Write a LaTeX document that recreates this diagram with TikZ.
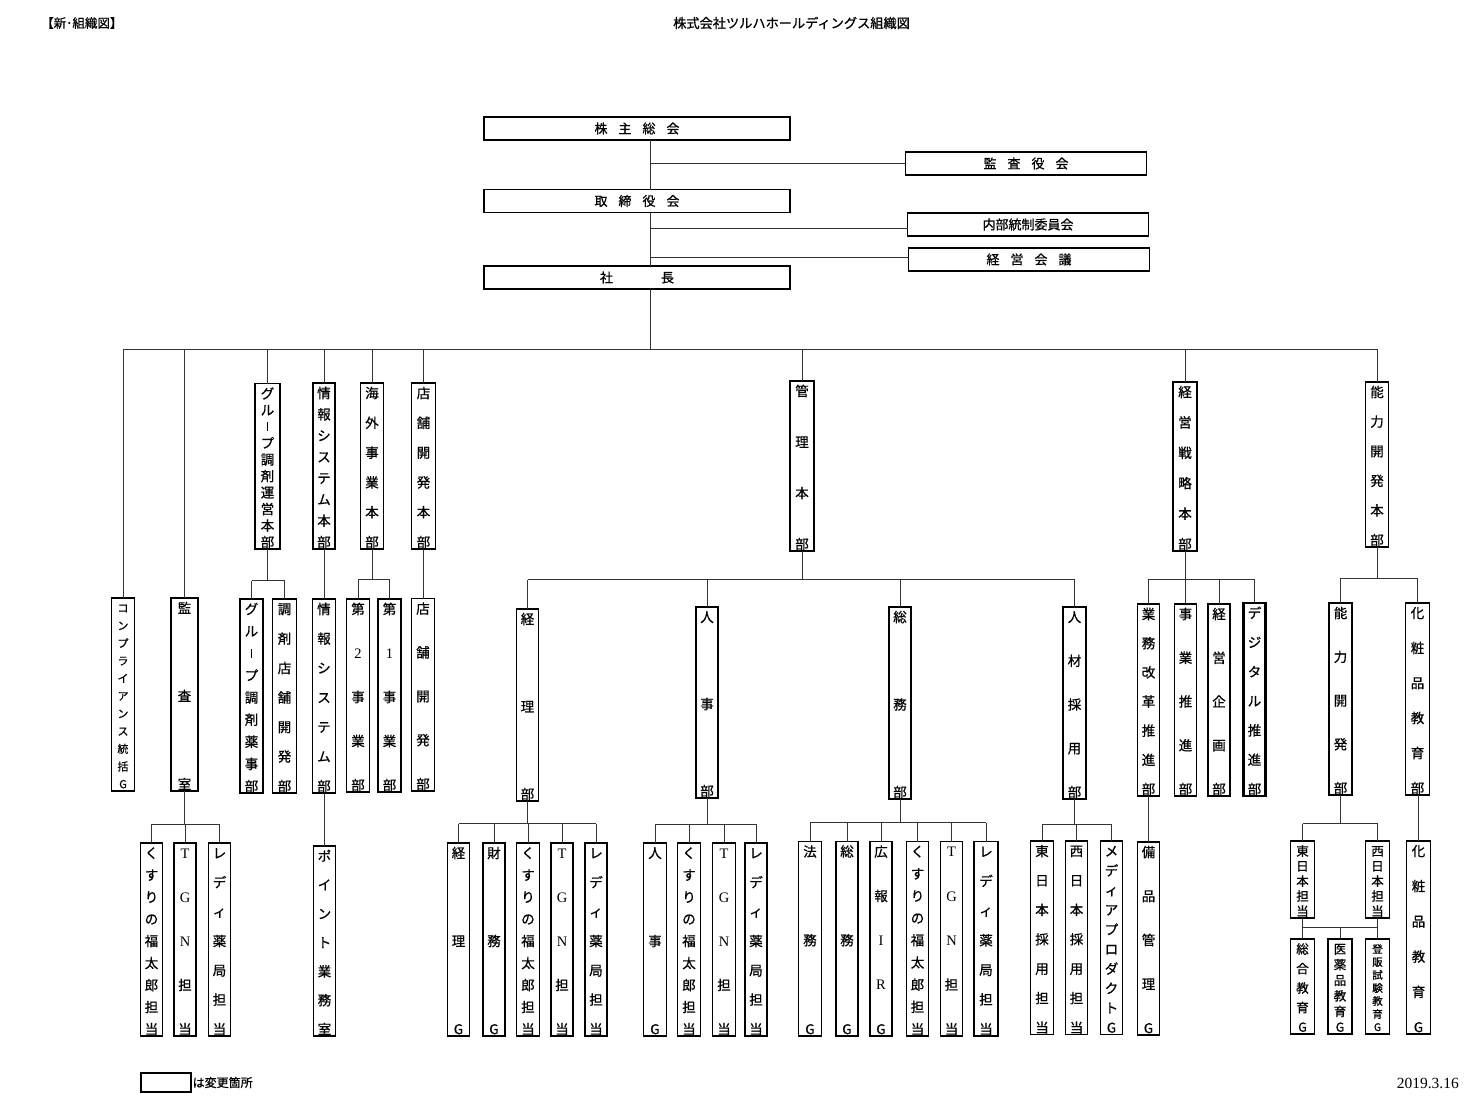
\documentclass[tikz,border=0pt]{standalone}
\usepackage{fontspec}
\setmainfont{Liberation Serif}
\newfontfamily\jp[FakeBold=0.7]{Noto Sans CJK JP}
\newcommand\lat[1]{{\rmfamily\fontsize{14.5}{14.5}\selectfont #1}}
\newcommand\vbarc{\rule[0.05em]{0.09em}{0.68em}}
\newcommand\hs{\hspace{11pt}}
\def\vfs{13.5}
\tikzset{
 ln/.style={line width=1pt, draw=black!80},
 bx/.style={draw=black, line width=1.1pt, fill=white, inner sep=0pt, outer sep=0pt},
 hb/.style={bx, minimum width=306pt, minimum height=23pt, font=\jp\fontsize{13}{13}\selectfont},
 sb/.style={bx, minimum width=241pt, minimum height=23pt, font=\jp\fontsize{13}{13}\selectfont},
 vch/.style={inner sep=0pt, font=\jp\fontsize{\vfs}{\vfs}\selectfont},
 chg/.style={line width=2.8pt},
 hdr/.style={inner sep=0pt, font=\jp\fontsize{12.5}{12.5}\selectfont},
}
% vertical box: [opts]{name}{x}{width}{top}{bottom}{chars}
\newcommand\vcol[7][]{%
 \node[bx,#1,minimum width=#4pt,minimum height={(#6-#5)*1pt}] (#2) at (#3,{(#5+#6)/2}) {};
 \foreach \c [count=\i] in {#7} {\xdef\vn{\i}}%
 \foreach \c [count=\i] in {#7} {%
   \pgfmathsetmacro\yy{#5+10+(\i-1)*(#6-#5-17)/(\vn-1)+0.38*\vfs}%
   \node[vch,anchor=base] at (#3,\yy) {\c};}%
}
% bracket: {parent}{Y}{children}
\newcommand\brk[3]{%
 \draw[ln] (#1.south) -- (#1.south |- 0,#2);
 \foreach \c [count=\i] in {#3} {\ifnum\i=1 \xdef\brkfirst{\c}\fi \xdef\brklast{\c}%
   \draw[ln] (\c.north) -- (\c.north |- 0,#2);}%
 \draw[ln] (\brkfirst.north |- 0,#2) -- (\brklast.north |- 0,#2);
}
\newcommand\direct[2]{\draw[ln] (#2.north) -- (#2.north |- #1.south);}
\begin{document}
\begin{tikzpicture}[x=1pt,y=-1pt]
\useasboundingbox (0,0) rectangle (1479,1119);
\fill[white] (0,0) rectangle (1479,1119);

% headers
\node[hdr,anchor=west] (hdrL) at (41,23) {【新･組織図】};
\node[hdr,anchor=west,font=\jp\fontsize{13.2}{13.2}\selectfont] (title) at (673,23) {株式会社ツルハホールディングス組織図};

\coordinate (sp) at (650,0);
\coordinate (bus) at (0,349);

\node[hb] (kabu) at (637,128.5) {株\hs 主\hs 総\hs 会};
\node[hb] (tori) at (637,201) {取\hs 締\hs 役\hs 会};
\node[hb] (shacho) at (637,277.5) {社\hspace{48pt}長};
\node[sb] (kansa) at (1026,163.5) {監\hs 査\hs 役\hs 会};
\node[sb] (naibu) at (1028,224.5) {内部統制委員会};
\node[sb] (keiei) at (1029,259.5) {経\hs 営\hs 会\hs 議};

\draw[ln] (kabu.south -| sp) -- (tori.north -| sp);
\draw[ln] (sp |- kansa.west) -- (kansa.west);
\draw[ln] (tori.south -| sp) -- (shacho.north -| sp);
\draw[ln] (sp |- 0,228) -- (naibu.west |- 0,228);
\draw[ln] (sp |- 0,257) -- (keiei.west |- 0,257);
\draw[ln] (shacho.south -| sp) -- (sp |- bus);

% level 1
\begin{scope}\def\vfs{11}
\vcol{comp}{123}{23}{598}{791}{コ,ン,プ,ラ,イ,ア,ン,ス,統,括,G}
\end{scope}
\vcol{kansashitsu}{184.5}{27}{598}{791}{監,査,室}
\vcol{grpH}{267.5}{25}{383.5}{549}{グ,ル,\vbarc,プ,調,剤,運,営,本,部}
\vcol{johoH}{324}{22}{383}{549}{情,報,シ,ス,テ,ム,本,部}
\vcol{kaigaiH}{372}{23.5}{383}{549}{海,外,事,業,本,部}
\vcol{tenpoH}{423.5}{23.5}{383}{549}{店,舗,開,発,本,部}
\vcol{kanriH}{802}{24}{381}{551}{管,理,本,部}
\vcol{senryakuH}{1185}{24}{382}{551}{経,営,戦,略,本,部}
\vcol{noryokuH}{1377}{23.5}{382}{547}{能,力,開,発,本,部}

\draw[ln] (comp.north |- bus) -- (noryokuH.north |- bus);
\foreach \n in {comp,kansashitsu,grpH,johoH,kaigaiH,tenpoH,kanriH,senryakuH,noryokuH}
  \draw[ln] (\n.north) -- (\n.north |- bus);

% level 2
\vcol{grpJ}{251.5}{23}{599}{793}{グ,ル,\vbarc,プ,調,剤,薬,事,部}
\vcol{chozai}{284.5}{24}{599}{793}{調,剤,店,舗,開,発,部}
\vcol{joho}{324}{23}{599}{793}{情,報,シ,ス,テ,ム,部}
\vcol{dai2}{358}{22.5}{599}{792}{第,\lat{2},事,業,部}
\vcol{dai1}{389.5}{23}{599}{792}{第,\lat{1},事,業,部}
\vcol{tenpo}{423}{23}{598.5}{791}{店,舗,開,発,部}
\vcol{keiri}{527.5}{22}{609}{801}{経,理,部}
\vcol{jinji}{707}{22}{607}{798}{人,事,部}
\vcol{somu}{900}{22}{607}{799}{総,務,部}
\vcol{jinzai}{1074.5}{23}{607}{799}{人,材,採,用,部}
\vcol{gyomu}{1148.5}{22.5}{604}{796}{業,務,改,革,推,進,部}
\vcol{jigyo}{1185.5}{22.5}{604}{796}{事,業,推,進,部}
\vcol{kikaku}{1219}{22}{604}{796}{経,営,企,画,部}
\vcol[chg]{digital}{1254.5}{22.5}{603}{796}{デ,ジ,タ,ル,推,進,部}
\vcol{noryoku}{1340.5}{23}{603}{795}{能,力,開,発,部}
\vcol{kesho}{1417.5}{23.5}{603}{795}{化,粧,品,教,育,部}

\brk{grpH}{580.5}{grpJ,chozai}
\direct{johoH}{joho}
\brk{kaigaiH}{579.5}{dai2,dai1}
\direct{tenpoH}{tenpo}
\brk{kanriH}{579.5}{keiri,jinji,somu,jinzai}
\brk{senryakuH}{579}{gyomu,jigyo,kikaku,digital}
\brk{noryokuH}{578}{noryoku,kesho}

% level 3
\vcol{kKusuri}{151.5}{22.5}{843}{1036}{く,す,り,の,福,太,郎,担,当}
\vcol{kTgn}{185}{22}{843}{1036}{\lat{T},\lat{G},\lat{N},担,当}
\vcol{kLady}{219.5}{22}{843}{1036}{レ,デ,ィ,薬,局,担,当}
\vcol{point}{324.5}{22.5}{846}{1036}{ポ,イ,ン,ト,業,務,室}

\vcol{krG}{458.5}{22.5}{843}{1036}{経,理,G}
\vcol{zaimu}{494}{22}{843}{1036}{財,務,G}
\vcol{krKusuri}{528}{22.5}{843}{1036}{く,す,り,の,福,太,郎,担,当}
\vcol{krTgn}{562}{22}{843}{1036}{\lat{T},\lat{G},\lat{N},担,当}
\vcol{krLady}{596}{22}{843}{1036}{レ,デ,ィ,薬,局,担,当}

\vcol{jjG}{655}{22.5}{843}{1036}{人,事,G}
\vcol{jjKusuri}{689}{22.5}{843}{1036}{く,す,り,の,福,太,郎,担,当}
\vcol{jjTgn}{724}{23}{843}{1036}{\lat{T},\lat{G},\lat{N},担,当}
\vcol{jjLady}{756}{22}{843}{1036}{レ,デ,ィ,薬,局,担,当}

\vcol{homu}{810}{23}{841.5}{1036}{法,務,G}
\vcol{somuG}{847}{22}{841.5}{1036}{総,務,G}
\vcol{koho}{881}{22}{841.5}{1036}{広,報,\lat{I},\lat{R},G}
\vcol{smKusuri}{917.5}{22}{841.5}{1036}{く,す,り,の,福,太,郎,担,当}
\vcol{smTgn}{951.5}{22.5}{841.5}{1036}{\lat{T},\lat{G},\lat{N},担,当}
\vcol{smLady}{986}{24}{841.5}{1036}{レ,デ,ィ,薬,局,担,当}

\vcol{higashiS}{1042}{22.5}{841}{1034.5}{東,日,本,採,用,担,当}
\vcol{nishiS}{1076.5}{22.5}{841}{1034.5}{西,日,本,採,用,担,当}
\vcol{media}{1111.5}{22}{841}{1034.5}{メ,デ,ィ,ア,プ,ロ,ダ,ク,ト,G}
\vcol{bihin}{1148.5}{22.5}{842}{1035}{備,品,管,理,G}

\begin{scope}\def\vfs{12.5}
\vcol{higashiT}{1302.5}{24}{841}{918}{東,日,本,担,当}
\vcol{nishiT}{1377.5}{24}{841}{918}{西,日,本,担,当}
\vcol{sogo}{1302.5}{24}{939}{1034}{総,合,教,育,G}
\vcol{iyaku}{1340}{24}{939}{1034}{医,薬,品,教,育,G}
\end{scope}
\begin{scope}\def\vfs{10.5}
\vcol{tohan}{1377.5}{24}{939}{1034}{登,販,試,験,教,育,G}
\end{scope}
\vcol{keshoG}{1418.5}{24}{841}{1034}{化,粧,品,教,育,G}

\brk{kansashitsu}{824}{kKusuri,kTgn,kLady}
\direct{joho}{point}
\brk{keiri}{823.5}{krG,zaimu,krKusuri,krTgn,krLady}
\brk{jinji}{824}{jjG,jjKusuri,jjTgn,jjLady}
\brk{somu}{822.5}{homu,somuG,koho,smKusuri,smTgn,smLady}
\brk{jinzai}{824}{higashiS,nishiS,media}
\direct{gyomu}{bihin}
\brk{noryoku}{823.5}{higashiT,nishiT}
\direct{kesho}{keshoG}
\draw[ln] (higashiT.south) -- (sogo.north);
\draw[ln] (nishiT.south) -- (tohan.north);
\draw[ln] (higashiT.south |- 0,927) -- (nishiT.south |- 0,927);
\draw[ln] (iyaku.north) -- (iyaku.north |- 0,927);

% legend and date
\node[bx,line width=2.6pt,minimum width=50pt,minimum height=19pt] (legend) at (166,1082.5) {};
\node[hdr,anchor=west,font=\jp\fontsize{12}{12}\selectfont] (legtxt) at (192.5,1082.5) {は変更箇所};
\node[anchor=east,inner sep=0pt,font=\rmfamily\fontsize{15.5}{15.5}\selectfont] (date) at (1459,1083) {2019.3.16};
\end{tikzpicture}
\end{document}
